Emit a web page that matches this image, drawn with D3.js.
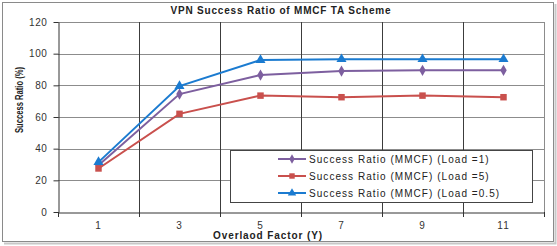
<!DOCTYPE html>
<html><head><meta charset="utf-8">
<script src="https://cdn.jsdelivr.net/npm/d3@7"></script>
<style>body{margin:0;background:#fff}svg{display:block;font-family:"Liberation Sans",Arial,sans-serif}</style>
</head><body><svg id="c" width="557" height="246"></svg>
<script>
const categories = ["1","3","5","7","9","11"];
const load1 = [29.5, 74.5, 86.5, 89, 89.5, 89.5];
const load5 = [27.5, 62, 73.5, 72.5, 73.5, 72.5];
const load05 = [31.5, 79.5, 96, 96.5, 96.5, 96.5];
const seriesNames = ["Success Ratio (MMCF) (Load =1)","Success Ratio (MMCF) (Load =5)","Success Ratio (MMCF) (Load =0.5)"];
const yTicks = [0,20,40,60,80,100,120];
const title = "VPN Success Ratio of MMCF TA Scheme";
const xTitle = "Overlaod Factor  (Y)";
const yTitle = "Success Ratio (%)";

const colors = ["#7d5f9f","#c9504d","#1b7bd0"];
const symbols = [d3.symbolDiamond, d3.symbolSquare, d3.symbolTriangle];
const symSizes = [36, 42, 44];
const series = [load1, load5, load05];

const svg = d3.select("#c");
const L=58, R=544, T=22, B=212;

// outer frame
svg.append("rect").attr("x",2.5).attr("y",2.5).attr("width",551).attr("height",239).attr("fill","#fff").attr("stroke","#8a8a8a").attr("stroke-width",1);
svg.append("path").attr("d","M4,243.5H555.5V4").attr("fill","none").attr("stroke","#c8c8c8").attr("stroke-width",2);

const x = d3.scaleBand().domain(categories).range([L,R]);
const y = d3.scaleLinear().domain([0,120]).range([B,T]);

// horizontal grid
svg.append("g").selectAll("line").data(yTicks.filter(d=>d>0)).join("line")
  .attr("x1",L).attr("x2",R).attr("y1",d=>Math.round(y(d))+0.5).attr("y2",d=>Math.round(y(d))+0.5)
  .attr("stroke","#8c8c8c").attr("stroke-width",1);
// vertical grid at band boundaries
const bounds = categories.slice(1).map(c=>x(c));
svg.append("g").selectAll("line").data(bounds).join("line")
  .attr("x1",d=>Math.round(d)+0.5).attr("x2",d=>Math.round(d)+0.5).attr("y1",T).attr("y2",B)
  .attr("stroke","#3c3c3c").attr("stroke-width",1);
// right border of plot
svg.append("line").attr("x1",R+0.5).attr("x2",R+0.5).attr("y1",T).attr("y2",B).attr("stroke","#8c8c8c");

// axes
const yAxis = d3.axisLeft(y).tickValues(yTicks).tickSize(5).tickPadding(6).tickSizeOuter(0);
const gy = svg.append("g").attr("transform",`translate(${L+0.5},0)`).call(yAxis);
gy.select(".domain").attr("stroke","#333");
gy.selectAll(".tick line").attr("stroke","#333");
gy.selectAll("text").attr("font-size",10).attr("fill","#333").attr("letter-spacing","0.6px").attr("font-family","Liberation Sans, Arial, sans-serif");

const xAxis = d3.axisBottom(x).tickSize(0).tickPadding(9).tickSizeOuter(0);
const gx = svg.append("g").attr("transform",`translate(0,${B+0.5})`).call(xAxis);
gx.select(".domain").attr("stroke","#333");
gx.selectAll("text").attr("font-size",10).attr("fill","#333").attr("letter-spacing","1px").attr("font-family","Liberation Sans, Arial, sans-serif");
// tick marks at band boundaries
svg.append("g").selectAll("line").data([L,...bounds,R]).join("line")
  .attr("x1",d=>Math.round(d)+0.5).attr("x2",d=>Math.round(d)+0.5).attr("y1",B).attr("y2",B+5).attr("stroke","#333");

// lines + markers
const cx = c => x(c)+x.bandwidth()/2;
const line = d3.line().x((d,i)=>cx(categories[i])).y(d=>y(d));
series.forEach((s,k)=>{
  svg.append("path").datum(s).attr("d",line).attr("fill","none").attr("stroke",colors[k]).attr("stroke-width",2);
  svg.append("g").selectAll("path").data(s).join("path")
    .attr("transform",(d,i)=>`translate(${cx(categories[i])},${y(d)})`)
    .attr("d",d3.symbol().type(symbols[k]).size(symSizes[k])).attr("fill",colors[k]);
});

// legend
svg.append("rect").attr("x",230.5).attr("y",150.5).attr("width",302).attr("height",52).attr("fill","#fff").attr("stroke","#444");
seriesNames.forEach((n,k)=>{
  const yy = 159 + k*17;
  svg.append("line").attr("x1",278).attr("x2",306).attr("y1",yy).attr("y2",yy).attr("stroke",colors[k]).attr("stroke-width",2);
  svg.append("path").attr("transform",`translate(292,${yy})`).attr("d",d3.symbol().type(symbols[k]).size(symSizes[k]*0.7)).attr("fill",colors[k]);
  svg.append("text").attr("x",309).attr("y",yy+3.5).attr("font-size",10).attr("letter-spacing","1.05px").attr("fill","#222").text(n);
});

// titles
svg.append("text").attr("x",281).attr("y",14).attr("text-anchor","middle").attr("font-size",10).attr("font-weight","bold").attr("letter-spacing","0.8px").attr("fill","#222").text(title);
svg.append("text").attr("x",268).attr("y",239).attr("text-anchor","middle").attr("font-size",10).attr("font-weight","bold").attr("letter-spacing","0.9px").attr("fill","#222").text(xTitle);
svg.append("text").attr("transform","translate(23,100) rotate(-90)").attr("text-anchor","middle").attr("font-size",10.5).attr("font-weight","bold").attr("fill","#222")
  .attr("textLength",66).attr("lengthAdjust","spacingAndGlyphs").text(yTitle);
</script></body></html>
